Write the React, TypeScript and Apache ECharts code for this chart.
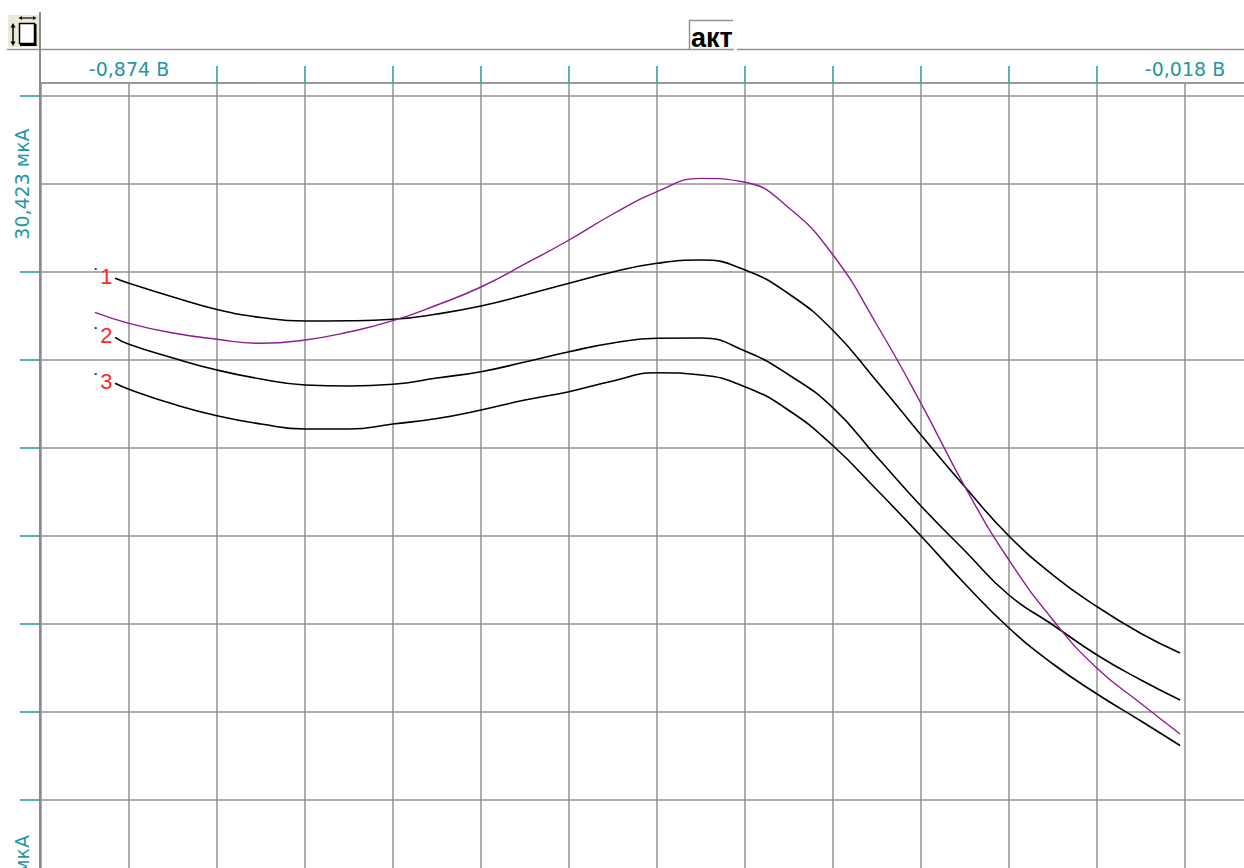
import React, { useEffect, useRef } from "react";
import * as echarts from "echarts";

// Potential axis: labelled grid lines and number of divisions between them
const V_FIRST = -0.874; // В
const V_LAST = -0.018; // В
const V_DIVISIONS = 12;

// Current axis: labelled grid line, value per division, divisions down to the lower label
const I_LABEL = 30.423; // мкА
const I_STEP = 5; // мкА
const I_DIV_BELOW = 8;

// Voltammograms 1–3 (black)
const curveVolts = [
  -0.8853, -0.874, -0.8383, -0.8027, -0.767, -0.7313, -0.6957, -0.66, -0.6243,
  -0.5887, -0.553, -0.5173, -0.4817, -0.446, -0.4103, -0.3747, -0.339, -0.3033,
  -0.2677, -0.232, -0.1963, -0.1607, -0.125, -0.0893, -0.0537, -0.022,
];
const curve1 = [
  25.065, 24.781, 24.003, 23.292, 22.838, 22.639, 22.65, 22.735, 23.037, 23.491,
  24.116, 24.781, 25.423, 25.917, 26.105, 25.537, 24.173, 22.1, 19.2, 16.162,
  13.207, 10.423, 8.207, 6.406, 4.883, 3.775,
];
const curve2 = [
  21.713, 21.315, 20.537, 19.855, 19.343, 19.003, 18.946, 19.042, 19.4, 19.758,
  20.309, 20.895, 21.389, 21.656, 21.673, 20.934, 19.571, 17.7, 14.912, 12.128,
  9.571, 7.071, 5.366, 3.662, 2.241, 1.105,
];
const curve3 = [
  19.099, 18.758, 17.923, 17.258, 16.787, 16.503, 16.503, 16.787, 17.099, 17.582,
  18.15, 18.622, 19.23, 19.701, 19.571, 18.906, 17.554, 15.55, 13.037, 10.423,
  7.696, 5.196, 3.15, 1.446, -0.088, -1.48,
];
const curveNames = ["1", "2", "3"];

// Active (purple) voltammogram
const activeVolts = [
  -0.9016, -0.874, -0.8383, -0.8027, -0.767, -0.7313, -0.6957, -0.66, -0.6243,
  -0.5887, -0.553, -0.5173, -0.4817, -0.446, -0.4103, -0.3747, -0.339,
  -0.3033, -0.2677, -0.232, -0.1963, -0.1607, -0.125, -0.0893, -0.0537, -0.022,
];
const activeCurrent = [
  23.133, 22.508, 21.957, 21.599, 21.372, 21.559, 22.014, 22.656, 23.548, 24.571,
  25.878, 27.241, 28.718, 29.986, 30.74, 30.52, 29.059, 26.389, 22.412,
  17.963, 13.207, 9.059, 5.65, 2.906, 0.906, -0.827,
];

const TITLE = "акт";

// Layout
const W = 1244;
const H = 868;
const CELL = 88;
const GRID_LEFT = 41;
const GRID_TOP = 83;
const GRID_RIGHT = -20;
const GRID_BOTTOM = -20;

const GRID_COLOR = "#939393";
const TEAL = "#2596a0";
const LABEL_RED = "#ff2626";
const PURPLE = "#8e1b93";

const vStep = (V_LAST - V_FIRST) / V_DIVISIONS;
const xMin = V_FIRST - vStep;
const xMax = xMin + ((W - GRID_LEFT - GRID_RIGHT) / CELL) * vStep;
const iMin = I_LABEL - I_DIV_BELOW * I_STEP;
const iMax = iMin + ((H - GRID_TOP - GRID_BOTTOM) / CELL) * I_STEP;

const near = (a: number, b: number, tol: number) => Math.abs(a - b) < tol;
const fmt = (v: number) => v.toFixed(3).replace(".", ",");

const xGridValues = Array.from({ length: V_DIVISIONS + 1 }, (_, k) => V_FIRST + k * vStep);
const xTickValues = xGridValues.slice(1, -1);
const yTickValues = Array.from({ length: 10 }, (_, k) => iMin + k * I_STEP).filter(
  (v) => !near(v, I_LABEL, I_STEP / 100)
);

// Only the outer potentials and two current levels carry text
const xLabel = (v: number) => {
  const tol = vStep / 100;
  if (near(v, V_FIRST, tol)) return `${fmt(V_FIRST)} В`;
  if (near(v, V_LAST, tol)) return `${fmt(V_LAST)} В`;
  return "";
};
const yLabel = (v: number) => {
  const tol = I_STEP / 100;
  if (near(v, I_LABEL, tol)) return `${fmt(I_LABEL)} мкА`;
  if (near(v, iMin, tol)) return `${fmt(iMin)} мкА`;
  return "";
};

const axisFont = { color: TEAL, fontSize: 19, fontFamily: "DejaVu Sans" };

const startLabel = (name: string, volts: number[], cur: number[]) => ({
  silent: true,
  symbol: "circle",
  symbolSize: 1,
  itemStyle: { color: "rgba(0,0,0,0)" },
  data: [
    {
      coord: [volts[0], cur[0]],
      label: {
        show: true,
        position: "left",
        distance: 2,
        offset: [0, -2],
        formatter: `{d|˙}{n|${name}}`,
        rich: {
          d: { color: "#333", fontSize: 22, fontFamily: "Liberation Sans" },
          n: { color: LABEL_RED, fontSize: 22, fontFamily: "Liberation Sans" },
        },
      },
    },
  ],
});

const curveSeries = [curve1, curve2, curve3].map((cur, i) => ({
  type: "line",
  name: curveNames[i],
  data: curveVolts.map((v, j) => [v, cur[j]]),
  xAxisIndex: 0,
  yAxisIndex: 0,
  showSymbol: false,
  symbol: "none",
  smooth: 0.5,
  silent: true,
  z: 3,
  lineStyle: { color: "#000", width: 1.6 },
  markPoint: startLabel(curveNames[i], curveVolts, cur),
}));

const activeSeries = {
  type: "line",
  name: TITLE,
  data: activeVolts.map((v, j) => [v, activeCurrent[j]]),
  xAxisIndex: 0,
  yAxisIndex: 0,
  showSymbol: false,
  symbol: "none",
  smooth: 0.5,
  silent: true,
  z: 4,
  lineStyle: { color: PURPLE, width: 1.4 },
};

const line = (x1: number, y1: number, x2: number, y2: number, stroke = GRID_COLOR, lineWidth = 1.5) => ({
  type: "line",
  silent: true,
  shape: { x1, y1, x2, y2 },
  style: { stroke, lineWidth },
});

const option = {
  animation: false,
  backgroundColor: "#fff",
  grid: {
    left: GRID_LEFT,
    top: GRID_TOP,
    right: GRID_RIGHT,
    bottom: GRID_BOTTOM,
    containLabel: false,
    outerBoundsMode: "none",
  },
  xAxis: [
    {
      type: "value",
      position: "top",
      min: xMin,
      max: xMax,
      interval: vStep,
      axisLine: { show: true, onZero: false, lineStyle: { color: GRID_COLOR, width: 1.5 } },
      axisTick: { show: false },
      splitLine: { show: true, lineStyle: { color: GRID_COLOR, width: 1.5 } },
      axisLabel: { show: true, margin: 5, ...axisFont, formatter: xLabel },
    },
    {
      type: "value",
      position: "top",
      min: xMin,
      max: xMax,
      interval: vStep,
      axisLine: { show: false, onZero: false },
      splitLine: { show: false },
      axisLabel: { show: false },
      axisTick: {
        show: true,
        customValues: xTickValues,
        length: 17,
        lineStyle: { color: TEAL, width: 1.5 },
      },
    },
  ],
  yAxis: [
    {
      type: "value",
      position: "left",
      offset: 1,
      min: iMin,
      max: iMax,
      interval: I_STEP,
      axisLine: { show: true, onZero: false, lineStyle: { color: "#8a8a8a", width: 2 } },
      axisTick: { show: false },
      splitLine: { show: true, lineStyle: { color: GRID_COLOR, width: 1.5 } },
      axisLabel: { show: true, rotate: 90, margin: 9, ...axisFont, formatter: yLabel },
    },
    {
      type: "value",
      position: "left",
      offset: 1,
      min: iMin,
      max: iMax,
      interval: I_STEP,
      axisLine: { show: false, onZero: false },
      splitLine: { show: false },
      axisLabel: { show: false },
      axisTick: {
        show: true,
        customValues: yTickValues,
        length: 20,
        lineStyle: { color: TEAL, width: 1.5 },
      },
    },
  ],
  series: [...curveSeries, activeSeries],
  graphic: [
    // frame above the plot
    line(7, 49.5, 734, 49.5),
    line(737, 49.5, W, 49.5),
    line(40, 12, 40, GRID_TOP, "#8a8a8a", 2),
    // title box
    line(689.5, 20, 689.5, 49),
    line(689, 20.5, 733, 20.5),
    {
      type: "text",
      silent: true,
      x: 691,
      y: 38,
      style: {
        text: TITLE,
        fill: "#000",
        font: 'bold 27px "Liberation Sans"',
        align: "left",
        verticalAlign: "middle",
      },
    },
    // zoom/scale button
    {
      type: "rect",
      silent: true,
      shape: { x: 8, y: 15, width: 31, height: 32 },
      style: { fill: "#ece9d8" },
    },
    {
      type: "rect",
      silent: true,
      shape: { x: 19.5, y: 23.5, width: 15, height: 20 },
      style: { fill: "#fff", stroke: "#000", lineWidth: 1.5 },
    },
    line(35.5, 24, 35.5, 45.5, "#000", 2),
    line(20, 45, 36.5, 45, "#000", 2),
    line(13, 26, 13, 43, "#000", 1.5),
    {
      type: "polygon",
      silent: true,
      shape: { points: [[13, 23], [10.5, 27.5], [15.5, 27.5]] },
      style: { fill: "#000" },
    },
    {
      type: "polygon",
      silent: true,
      shape: { points: [[13, 46], [10.5, 41.5], [15.5, 41.5]] },
      style: { fill: "#000" },
    },
    line(21, 18, 34, 18, "#000", 1.2),
    {
      type: "polygon",
      silent: true,
      shape: { points: [[18.5, 18], [22, 16], [22, 20]] },
      style: { fill: "#000" },
    },
    {
      type: "polygon",
      silent: true,
      shape: { points: [[36.5, 18], [33, 16], [33, 20]] },
      style: { fill: "#000" },
    },
  ],
};

export default function App() {
  const ref = useRef<HTMLDivElement>(null);
  useEffect(() => {
    const chart = echarts.init(ref.current!, null, { renderer: "svg" });
    chart.setOption(option as any);
    return () => chart.dispose();
  }, []);
  return (
    <div
      ref={ref}
      style={{ position: "fixed", left: 0, top: 0, width: W, height: H, background: "#fff" }}
    />
  );
}
